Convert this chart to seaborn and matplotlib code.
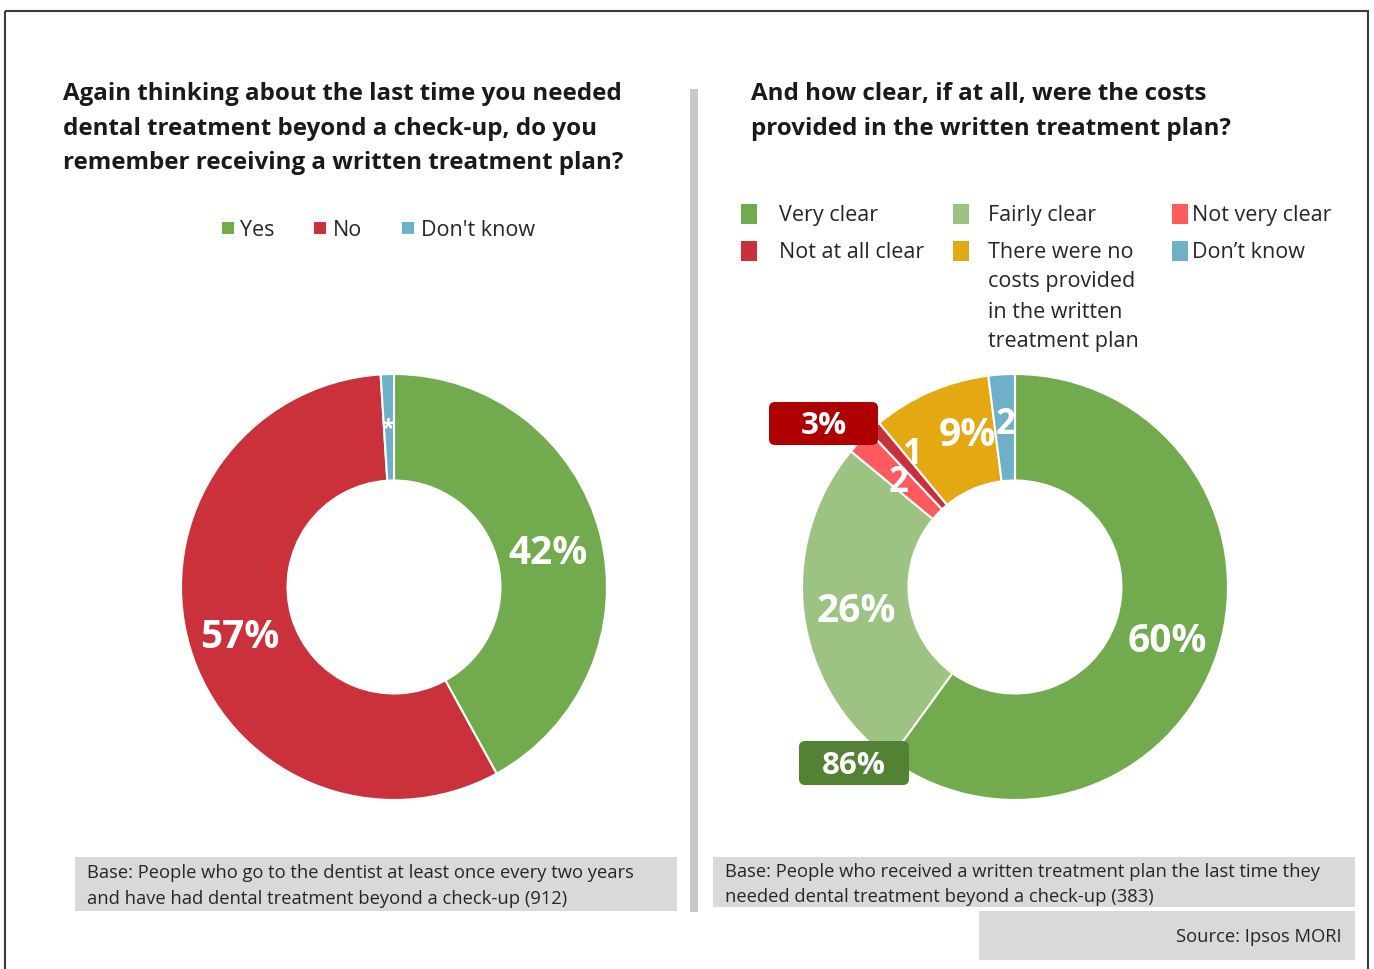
import matplotlib
matplotlib.use("Agg")
import matplotlib.pyplot as plt
from matplotlib.patches import Rectangle, FancyBboxPatch
import seaborn as sns

sns.set_theme(style="white")
plt.rcParams["font.family"] = ["Open Sans", "DejaVu Sans"]

# ---- data -------------------------------------------------------------
plan_labels = ["Yes", "No", "Don't know"]
plan_values = [42, 57, 1]
plan_text = ["42%", "57%", "*"]
plan_colors = ["#72AB4E", "#CB313A", "#6EB0C8"]

clarity_labels = ["Very clear", "Fairly clear", "Not very clear",
                  "Not at all clear",
                  "There were no\ncosts provided\nin the written\ntreatment plan",
                  "Don\u2019t know"]
clarity_values = [60, 26, 2, 1, 9, 2]
clarity_text = ["60%", "26%", "2", "1", "9%", "2"]
clarity_colors = ["#72AB4E", "#9DC383", "#FF5A5E", "#C8303B", "#E4A813", "#6DB0C8"]

clear_total = "86%"      # Very clear + Fairly clear
unclear_total = "3%"     # Not very clear + Not at all clear

W, H = 1374, 969
fig = plt.figure(figsize=(W / 100, H / 100), dpi=100)
fig.patch.set_facecolor("white")


def fx(x):
    return x / W


def fy(y):
    return 1 - y / H


def donut(cx, cy, r, values, colors, texts, text_pos, fs):
    ax = fig.add_axes([fx(cx - r), fy(cy + r), 2 * r / W, 2 * r / H])
    ax.pie(values, colors=colors, startangle=90, counterclock=False,
           wedgeprops=dict(width=0.5, edgecolor="white", linewidth=1.5))
    ax.set_xlim(-1, 1)
    ax.set_ylim(-1, 1)
    ax.set_aspect("equal")
    ax.axis("off")
    for t, (x, y), s in zip(texts, text_pos, fs):
        fig.text(fx(x), fy(y), t, ha="center", va="center", color="white",
                 fontsize=s, fontweight="bold")
    return ax


# ---- left donut -------------------------------------------------------
donut(394, 587, 213, plan_values, plan_colors, plan_text,
      [(548, 553), (240, 638), (388, 429)], [28, 28, 17])

# ---- right donut ------------------------------------------------------
donut(1015, 587, 213, clarity_values, clarity_colors, clarity_text,
      [(1167, 642), (856, 612), (899, 483), (913, 455), (967, 435), (1006, 425)],
      [28, 28, 25, 25, 28, 25])

# ---- overlay for frame, titles, legends, notes ------------------------
ov = fig.add_axes([0, 0, 1, 1], zorder=5)
ov.set_xlim(0, W)
ov.set_ylim(H, 0)
ov.axis("off")
ov.patch.set_alpha(0)

ov.add_patch(Rectangle((4.5, 10.5), 1363.5, 980, fill=False,
                       edgecolor="#3a3a3a", linewidth=1.5))
ov.add_patch(Rectangle((690, 89), 8, 823, color="#c8c8c8", lw=0))


def lines(x, y0, step, text, **kw):
    for i, line in enumerate(text.split("\n")):
        ov.text(x, y0 + i * step, line, va="center", **kw)


title_kw = dict(fontsize=17.4, fontweight="bold", color="#1a1a1a", ha="left")
lines(63, 94, 34.5, "Again thinking about the last time you needed\n"
      "dental treatment beyond a check-up, do you\n"
      "remember receiving a written treatment plan?", **title_kw)
lines(751, 94, 34.5, "And how clear, if at all, were the costs\n"
      "provided in the written treatment plan?", **title_kw)

# left legend
for (sx, tx), lab, col in zip([(222, 240), (314, 333), (402, 421)],
                              plan_labels, plan_colors):
    ov.add_patch(Rectangle((sx, 222), 12, 12, color=col, lw=0))
    lines(tx, 230, 30, lab, fontsize=15.5, color="#262626")

# right legend
leg_pos = [(741, 779, 215), (953, 988, 215), (1172, 1192, 215),
           (741, 779, 252), (953, 988, 252), (1172, 1192, 252)]
for (sx, tx, y), lab, col in zip(leg_pos, clarity_labels, clarity_colors):
    ov.add_patch(Rectangle((sx, y - 11), 16, 20, color=col, lw=0))
    lines(tx, y, 30, lab, fontsize=15.5, color="#262626")

# total badges
for (x0, y0, x1, y1), txt, col in [((769, 402, 878, 445), unclear_total, "#AE0000"),
                                   ((799, 741, 909, 785), clear_total, "#548235")]:
    ov.add_patch(FancyBboxPatch((x0 + 5, y0 + 5), x1 - x0 - 10, y1 - y0 - 10,
                                boxstyle="round,pad=5,rounding_size=6",
                                facecolor=col, edgecolor="none"))
    ov.text((x0 + x1) / 2, (y0 + y1) / 2 + 2.5, txt, fontsize=22.5,
            fontweight="bold", color="white", ha="center", va="center")

# base notes
note_kw = dict(fontsize=13.2, color="#262626")
ov.add_patch(Rectangle((75, 857), 602, 54, color="#d9d9d9", lw=0))
lines(87, 873, 26, "Base: People who go to the dentist at least once every two years\n"
      "and have had dental treatment beyond a check-up (912)", **note_kw)
ov.add_patch(Rectangle((713, 857), 642, 50, color="#d9d9d9", lw=0))
lines(725, 872, 25.5, "Base: People who received a written treatment plan the last time they\n"
      "needed dental treatment beyond a check-up (383)", **note_kw)
ov.add_patch(Rectangle((979, 911), 376, 49, color="#d9d9d9", lw=0))
ov.text(1342, 937, "Source: Ipsos MORI", ha="right", fontsize=13.2,
        color="#262626", va="center")

fig.savefig("out.png", dpi=100, facecolor="white")
